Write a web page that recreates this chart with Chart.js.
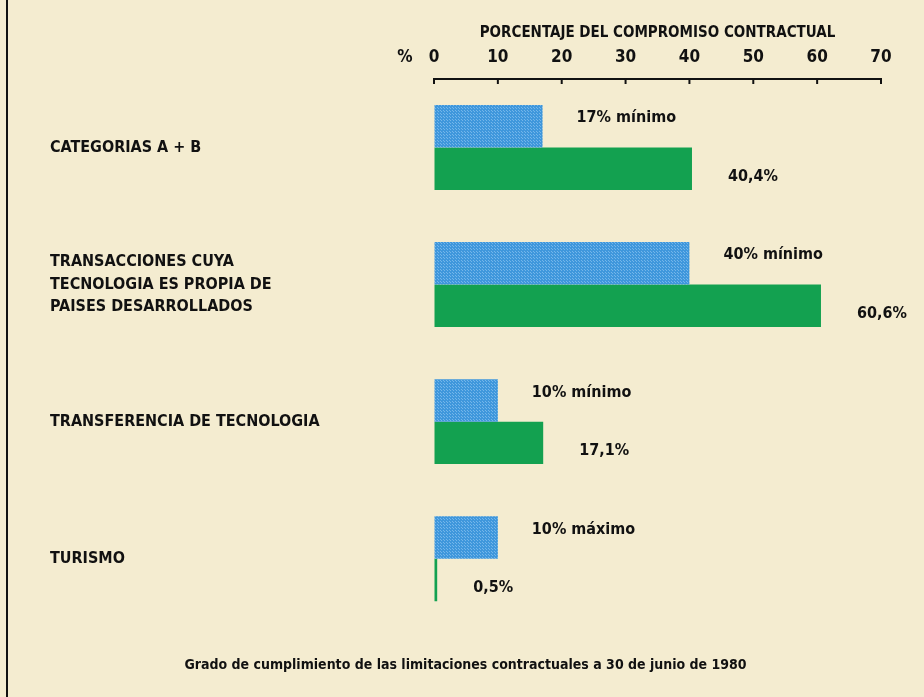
<!DOCTYPE html>
<html>
<head>
<meta charset="utf-8">
<script src="https://cdn.jsdelivr.net/npm/chart.js@4.4.0/dist/chart.umd.min.js"></script>
<style>
  html, body { margin: 0; padding: 0; background: #f4ecd0; }
  #wrap { width: 924px; height: 697px; }
</style>
</head>
<body>
<div id="wrap"><canvas id="chart" width="924" height="697"></canvas></div>
<script>
// values
const categories = [
  ['CATEGORIAS A + B'],
  ['TRANSACCIONES CUYA', 'TECNOLOGIA ES PROPIA DE', 'PAISES DESARROLLADOS'],
  ['TRANSFERENCIA DE TECNOLOGIA'],
  ['TURISMO']
];
const limits = [17, 40, 10, 10];
const limitKinds = ['mínimo', 'mínimo', 'mínimo', 'máximo'];
const actual = [40.4, 60.6, 17.1, 0.5];
const axisTicks = [0, 10, 20, 30, 40, 50, 60, 70];

const FONT = '"Liberation Sans Narrow", "DejaVu Sans Condensed", "Roboto", sans-serif';
const INK = '#111';

// dotted blue fill like a print screen
function halftone(base, dot) {
  const c = document.createElement('canvas');
  c.width = 3; c.height = 3;
  const g = c.getContext('2d');
  g.fillStyle = base;
  g.fillRect(0, 0, 3, 3);
  g.fillStyle = dot;
  g.fillRect(0, 0, 1, 1);
  g.fillRect(2, 2, 1, 1);
  return g.createPattern(c, 'repeat');
}

const fmt = v => String(v).replace('.', ',') + '%';

const paper = {
  id: 'paper',
  beforeDraw(chart) {
    const ctx = chart.ctx;
    ctx.save();
    ctx.fillStyle = '#f4ecd0';
    ctx.fillRect(0, 0, chart.width, chart.height);
    ctx.fillStyle = INK;
    ctx.fillRect(6, 0, 2, chart.height);
    ctx.restore();
  }
};

// small ticks hanging below the axis line, plus the % sign
const axisMarks = {
  id: 'axisMarks',
  afterDraw(chart) {
    const ctx = chart.ctx, x = chart.scales.x, top = chart.chartArea.top;
    ctx.save();
    ctx.strokeStyle = INK;
    ctx.lineWidth = 2;
    x.ticks.forEach(t => {
      const px = x.getPixelForValue(t.value);
      ctx.beginPath();
      ctx.moveTo(px, top - 1);
      ctx.lineTo(px, top + 5);
      ctx.stroke();
    });
    ctx.fillStyle = INK;
    ctx.font = 'bold 17px ' + FONT;
    ctx.textAlign = 'center';
    ctx.textBaseline = 'middle';
    ctx.fillText('%', x.left - 29, top - 21);
    ctx.restore();
  }
};

const barLabels = {
  id: 'barLabels',
  afterDatasetsDraw(chart) {
    const ctx = chart.ctx;
    ctx.save();
    ctx.fillStyle = INK;
    ctx.font = 'bold 16px ' + FONT;
    ctx.textAlign = 'left';
    ctx.textBaseline = 'middle';
    chart.getDatasetMeta(0).data.forEach((bar, i) => {
      ctx.fillText(limits[i] + '% ' + limitKinds[i], bar.x + 34, bar.y - 8);
    });
    chart.getDatasetMeta(1).data.forEach((bar, i) => {
      ctx.fillText(fmt(actual[i]), bar.x + 36, bar.y + 8);
    });
    ctx.restore();
  }
};

new Chart(document.getElementById('chart'), {
  type: 'bar',
  data: {
    labels: categories,
    datasets: [
      {
        label: 'Límite',
        data: limits,
        backgroundColor: halftone('#3f97dc', '#74b6ea'),
        barPercentage: 1,
        categoryPercentage: 0.62
      },
      {
        label: 'Cumplimiento',
        data: actual,
        backgroundColor: '#13a150',
        barPercentage: 1,
        categoryPercentage: 0.62
      }
    ]
  },
  options: {
    responsive: false,
    animation: false,
    indexAxis: 'y',
    layout: { padding: { left: 50, right: 43, top: 24, bottom: 0 } },
    plugins: {
      legend: { display: false },
      tooltip: { enabled: false },
      title: {
        display: true,
        position: 'bottom',
        text: 'Grado de cumplimiento de las limitaciones contractuales a 30 de junio de 1980',
        color: INK,
        font: { family: FONT, size: 14, weight: 'bold' },
        padding: { top: 30, bottom: 23 }
      }
    },
    scales: {
      x: {
        position: 'top',
        min: 0,
        max: 70,
        afterBuildTicks: s => { s.ticks = axisTicks.map(v => ({ value: v })); },
        afterFit: s => { s.height = 55; },
        ticks: {
          color: INK,
          padding: 11,
          font: { family: FONT, size: 17, weight: 'bold' }
        },
        grid: { drawOnChartArea: false, drawTicks: false },
        border: { display: true, color: INK, width: 2 },
        title: {
          display: true,
          text: 'PORCENTAJE DEL COMPROMISO CONTRACTUAL',
          color: INK,
          font: { family: FONT, size: 15, weight: 'bold' },
          padding: { top: 0, bottom: 3 }
        }
      },
      y: {
        afterFit: s => { s.width = 384; },
        grid: { display: false },
        border: { display: false },
        ticks: {
          crossAlign: 'far',
          color: INK,
          padding: 0,
          font: { family: FONT, size: 16, weight: 'bold', lineHeight: 1.4 }
        }
      }
    }
  },
  plugins: [paper, axisMarks, barLabels]
});
</script>
</body>
</html>
